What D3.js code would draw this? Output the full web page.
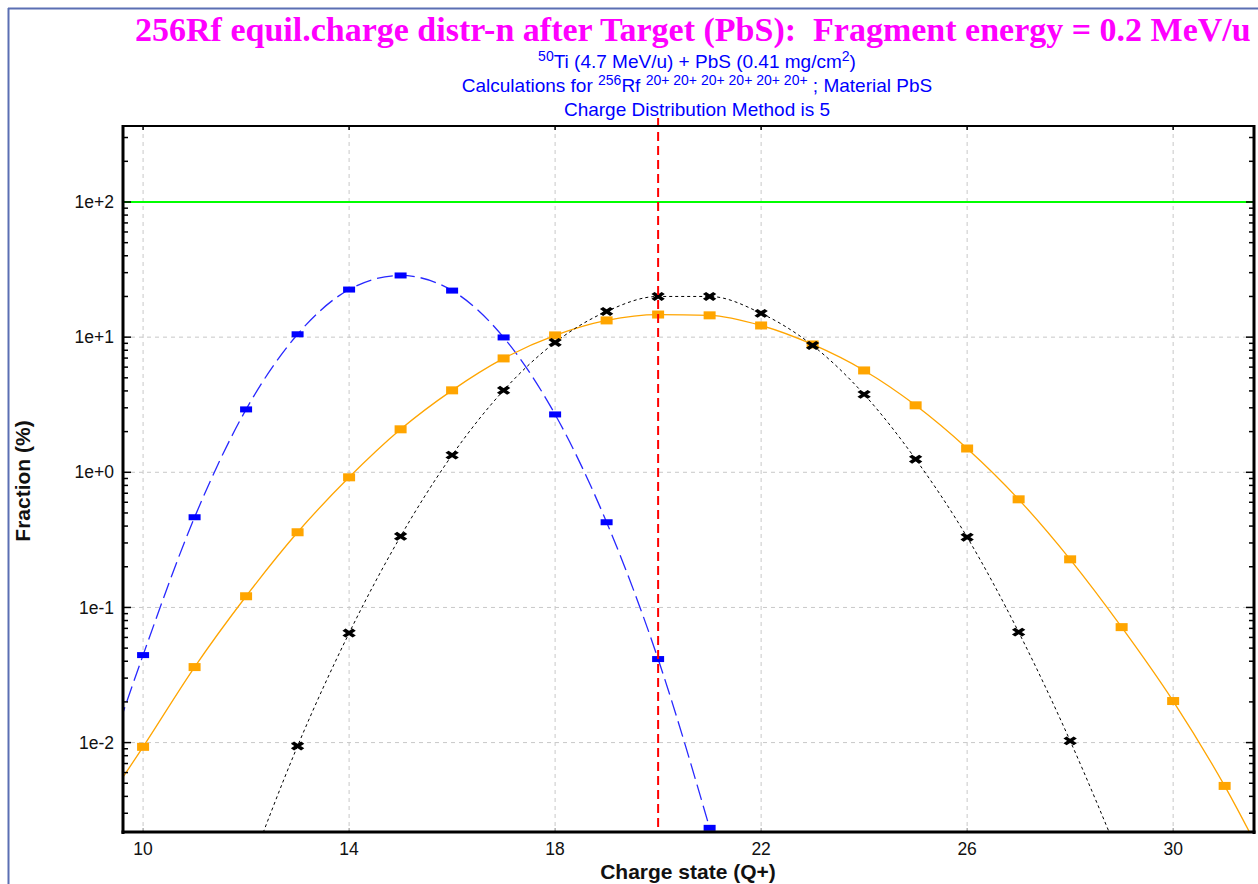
<!DOCTYPE html>
<html lang="en">
<head>
    <meta charset="UTF-8">
    <title>256Rf equilibrium charge distribution</title>
    <script src="https://cdn.jsdelivr.net/npm/d3@7"></script>
    <style>
        body { margin: 0; background: #fff; }
        svg { display: block; font-family: "Liberation Sans", Arial, sans-serif; }
        .title { font-family: "Liberation Serif", "Times New Roman", serif; font-weight: bold; fill: #ff00ff; white-space: pre; }
        .sub { fill: #0000ff; font-size: 19px; }
        .tick-label { font-size: 17.5px; fill: #111; }
        .axis-title { font-size: 21px; font-weight: bold; fill: #111; }
    </style>
</head>
<body>
<svg id="chart" width="1258" height="884"></svg>
<script>
    // charge states and fractions (%)
    const blueQ = [9, 10, 11, 12, 13, 14, 15, 16, 17, 18, 19, 20, 21];
    const blueF = [0.0034, 0.0444, 0.465, 2.92, 10.5, 22.5, 28.6, 22.1, 9.95, 2.68, 0.427, 0.0415, 0.00234];

    const orangeQ = [9, 10, 11, 12, 13, 14, 15, 16, 17, 18, 19, 20, 21, 22, 23, 24, 25, 26, 27, 28, 29, 30, 31, 32];
    const orangeF = [0.0025, 0.0093, 0.0362, 0.121, 0.36, 0.918, 2.08, 4.04, 6.96, 10.3, 13.3, 14.7, 14.5, 12.2,
                     8.83, 5.67, 3.13, 1.5, 0.631, 0.227, 0.0715, 0.0203, 0.00478, 0.0009];

    const blackQ = [12, 13, 14, 15, 16, 17, 18, 19, 20, 21, 22, 23, 24, 25, 26, 27, 28, 29];
    const blackF = [0.001, 0.00944, 0.0646, 0.336, 1.34, 4.04, 9.14, 15.5, 20.0, 20.0, 15.0, 8.68, 3.77, 1.25,
                    0.331, 0.0657, 0.0103, 0.0013];

    const xTicks = [10, 14, 18, 22, 26, 30];
    const yTicks = [1e-2, 1e-1, 1e0, 1e1, 1e2];
    const yTickLabels = ["1e-2", "1e-1", "1e+0", "1e+1", "1e+2"];
    const chargeLine = 20;     // red dashed marker
    const totalLine = 100;     // green line

    const svg = d3.select("#chart");
    const W = 1258, H = 884;
    const pL = 123, pR = 1254, pT = 126, pB = 832;   // plot frame

    const x = d3.scaleLinear().domain([9.61, 31.57]).range([pL, pR]);
    const y = d3.scaleLog().domain([0.00218, 365]).range([pB, pT]);

    // outer panel border
    svg.append("line").attr("x1", 8.5).attr("x2", 8.5).attr("y1", 8).attr("y2", H)
        .attr("stroke", "#5b6fb3").attr("stroke-width", 2);
    svg.append("line").attr("x1", 8).attr("x2", W).attr("y1", 8.5).attr("y2", 8.5)
        .attr("stroke", "#5b6fb3").attr("stroke-width", 2);

    // titles
    svg.append("text").attr("class", "title").attr("x", 135).attr("y", 41)
        .style("font-size", "34px")
        .text("256Rf equil.charge distr-n after Target (PbS):  Fragment energy = 0.2 MeV/u");

    const subX = 697;
    const s1 = svg.append("text").attr("class", "sub").attr("x", subX).attr("y", 68).attr("text-anchor", "middle");
    s1.append("tspan").attr("dy", -7).style("font-size", "14px").text("50");
    s1.append("tspan").attr("dy", 7).text("Ti (4.7 MeV/u) + PbS (0.41 mg/cm");
    s1.append("tspan").attr("dy", -7).style("font-size", "14px").text("2");
    s1.append("tspan").attr("dy", 7).text(")");

    const s2 = svg.append("text").attr("class", "sub").attr("x", subX).attr("y", 92).attr("text-anchor", "middle");
    s2.append("tspan").text("Calculations for ");
    s2.append("tspan").attr("dy", -7).style("font-size", "14px").text("256");
    s2.append("tspan").attr("dy", 7).text("Rf ");
    s2.append("tspan").attr("dy", -7).style("font-size", "14px").text("20+ 20+ 20+ 20+ 20+ 20+");
    s2.append("tspan").attr("dy", 7).text(" ; Material PbS");

    svg.append("text").attr("class", "sub").attr("x", subX).attr("y", 116).attr("text-anchor", "middle")
        .text("Charge Distribution Method is 5");

    // grid
    const grid = svg.append("g").attr("stroke", "#c8c8c8").attr("stroke-dasharray", "4,4").attr("stroke-width", 1);
    grid.selectAll(".gx").data(xTicks).join("line")
        .attr("x1", d => x(d)).attr("x2", d => x(d)).attr("y1", pT).attr("y2", pB);
    grid.selectAll(".gy").data(yTicks).join("line")
        .attr("x1", pL).attr("x2", pR).attr("y1", d => y(d)).attr("y2", d => y(d));

    // clip for the curves
    svg.append("clipPath").attr("id", "plotClip").append("rect")
        .attr("x", pL).attr("y", pT).attr("width", pR - pL).attr("height", pB - pT);
    const plot = svg.append("g").attr("clip-path", "url(#plotClip)");

    plot.append("line").attr("x1", pL).attr("x2", pR).attr("y1", y(totalLine)).attr("y2", y(totalLine))
        .attr("stroke", "#00ff00").attr("stroke-width", 2);

    const line = d3.line().x(d => x(d[0])).y(d => y(d[1])).curve(d3.curveMonotoneX);
    const zip = (a, b) => a.map((q, i) => [q, b[i]]);

    const blue = zip(blueQ, blueF), orange = zip(orangeQ, orangeF), black = zip(blackQ, blackF);

    plot.append("path").attr("d", line(blue)).attr("fill", "none")
        .attr("stroke", "#2828ff").attr("stroke-width", 1.3).attr("stroke-dasharray", "16,6");
    plot.append("path").attr("d", line(orange)).attr("fill", "none")
        .attr("stroke", "#ffa500").attr("stroke-width", 1.3);
    plot.append("path").attr("d", line(black)).attr("fill", "none")
        .attr("stroke", "#000").attr("stroke-width", 1).attr("stroke-dasharray", "3,3");

    // markers
    plot.selectAll(".mo").data(orange).join("rect")
        .attr("x", d => x(d[0]) - 6).attr("y", d => y(d[1]) - 4).attr("width", 12).attr("height", 8)
        .attr("fill", "#ffa500");
    plot.selectAll(".mb").data(blue).join("rect")
        .attr("x", d => x(d[0]) - 6).attr("y", d => y(d[1]) - 3).attr("width", 12).attr("height", 6)
        .attr("fill", "#0000ff");
    const xsym = d3.symbol().type(d3.symbolTimes).size(32);
    plot.selectAll(".mk").data(black).join("path")
        .attr("d", xsym)
        .attr("transform", d => `translate(${x(d[0])},${y(d[1])}) scale(1.5,1)`)
        .attr("fill", "none").attr("stroke", "#000").attr("stroke-width", 3);

    // red dashed charge line (pokes slightly above the frame)
    svg.append("line").attr("x1", x(chargeLine)).attr("x2", x(chargeLine)).attr("y1", pT - 8).attr("y2", pB)
        .attr("stroke", "#ff0000").attr("stroke-width", 2).attr("stroke-dasharray", "9,5");

    // minor/major ticks on left and right axes
    const minors = [];
    for (let e = -3; e <= 2; e++) for (let m = 1; m <= 9; m++) {
        const v = m * Math.pow(10, e);
        if (v >= y.domain()[0] && v <= y.domain()[1]) minors.push(v);
    }
    const ticks = svg.append("g").attr("stroke", "#000").attr("stroke-width", 1.5);
    ticks.selectAll(".tl").data(minors).join("line")
        .attr("x1", pL).attr("x2", d => pL + (yTicks.includes(d) ? 8 : 5))
        .attr("y1", d => y(d)).attr("y2", d => y(d));
    ticks.selectAll(".tr").data(minors).join("line")
        .attr("x1", pR).attr("x2", d => pR - (yTicks.includes(d) ? 8 : 5))
        .attr("y1", d => y(d)).attr("y2", d => y(d));
    ticks.selectAll(".tt").data(xTicks).join("line")
        .attr("x1", d => x(d)).attr("x2", d => x(d)).attr("y1", pT).attr("y2", pT + 4);
    svg.append("g").attr("stroke", "#888").selectAll("line").data(xTicks).join("line")
        .attr("x1", d => x(d)).attr("x2", d => x(d)).attr("y1", pB).attr("y2", pB - 4);

    // frame
    svg.append("line").attr("x1", pL - 1).attr("x2", pR + 1).attr("y1", pT).attr("y2", pT)
        .attr("stroke", "#000").attr("stroke-width", 2);
    svg.append("line").attr("x1", pL).attr("x2", pL).attr("y1", pT - 1).attr("y2", pB + 2)
        .attr("stroke", "#000").attr("stroke-width", 3);
    svg.append("line").attr("x1", pR).attr("x2", pR).attr("y1", pT - 1).attr("y2", pB + 2)
        .attr("stroke", "#000").attr("stroke-width", 3);
    svg.append("line").attr("x1", pL - 1.5).attr("x2", pR + 1.5).attr("y1", pB).attr("y2", pB)
        .attr("stroke", "#000").attr("stroke-width", 3);

    // tick labels
    svg.selectAll(".yl").data(yTicks).join("text").attr("class", "tick-label")
        .attr("x", 114).attr("y", d => y(d)).attr("dy", "0.35em").attr("text-anchor", "end")
        .text((d, i) => yTickLabels[i]);
    svg.selectAll(".xl").data(xTicks).join("text").attr("class", "tick-label")
        .attr("x", d => x(d)).attr("y", 855).attr("text-anchor", "middle")
        .text(d => d);

    // axis titles
    svg.append("text").attr("class", "axis-title").attr("x", 688).attr("y", 879).attr("text-anchor", "middle")
        .text("Charge state (Q+)");
    svg.append("text").attr("class", "axis-title").attr("text-anchor", "middle")
        .attr("transform", "translate(30,481) rotate(-90)")
        .text("Fraction (%)");
</script>
</body>
</html>
